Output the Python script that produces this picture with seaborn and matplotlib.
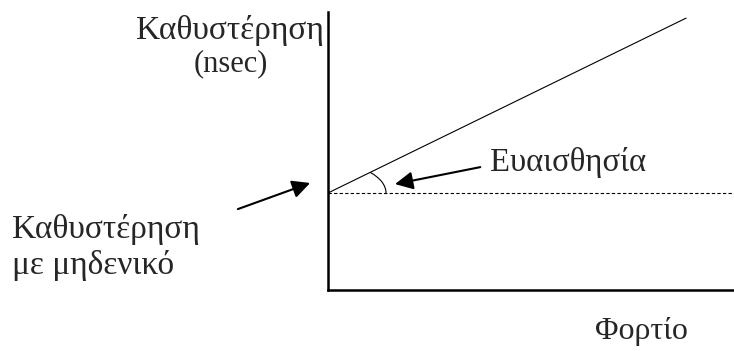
import numpy as np
import matplotlib
matplotlib.use("Agg")
import matplotlib.pyplot as plt
from matplotlib.patches import Arc
import seaborn as sns
import pandas as pd

# Datos del diagrama (unidades arbitrarias)
carga = [0.0, 8.82]
retardo = [3.49, 9.78]
carga_base = [0.0, 10.0]
retardo_base = [3.49, 3.49]

sns.set_theme(style="white")
plt.rcParams['font.family'] = ['Liberation Serif', 'DejaVu Serif']

fig = plt.figure(figsize=(7.34, 3.51), dpi=100)
ax = fig.add_axes([328 / 734, 61 / 351, 406 / 734, 278 / 351])

df = pd.DataFrame({'carga': carga, 'retardo': retardo})
df_base = pd.DataFrame({'carga': carga_base, 'retardo': retardo_base})

sns.lineplot(data=df, x='carga', y='retardo', color='black', linewidth=0.8, ax=ax)
sns.lineplot(data=df_base, x='carga', y='retardo', color='black', linewidth=0.8,
             linestyle=(0, (3, 2)), ax=ax)

ax.set_xlim(0, 10)
ax.set_ylim(0, 10)
ax.set_xticks([])
ax.set_yticks([])
ax.set_xlabel('')
ax.set_ylabel('')
for lado in ['top', 'right']:
    ax.spines[lado].set_visible(False)
for lado in ['left', 'bottom']:
    ax.spines[lado].set_color('black')
    ax.spines[lado].set_linewidth(1.8)

# Arco del angulo (sensibilidad)
ang = np.degrees(np.arctan2(retardo[1] - retardo[0], carga[1] - carga[0]))
ax.add_patch(Arc((carga[0], retardo[0]), 2 * 58 / 40.6, 2 * 30 / 27.8,
                 theta1=0, theta2=ang, color='black', linewidth=0.8))

flecha = dict(arrowstyle='-|>,head_length=0.9,head_width=0.45', color='black',
              linewidth=1.5, shrinkA=0, shrinkB=0)
ax.annotate('', xy=(1.65, 3.81), xytext=(3.75, 4.42), arrowprops=flecha)
ax.annotate('', xy=(-0.44, 3.85), xytext=(-2.22, 2.91), arrowprops=flecha,
            annotation_clip=False)

def texto(x, y, s, fs=24, ha='left'):
    fig.text(x / 734, 1 - y / 351, s, fontsize=fs, ha=ha, va='baseline')

texto(324, 39, 'Καθυστέρηση', ha='right')
texto(231, 71, '(nsec)', fs=22, ha='center')
texto(490, 171, 'Ευαισθησία', fs=23.5)
texto(12, 238, 'Καθυστέρηση')
texto(12, 274, 'με μηδενικό')
texto(641, 339, 'Φορτίο', fs=23, ha='center')

fig.savefig('out.png', dpi=100)
